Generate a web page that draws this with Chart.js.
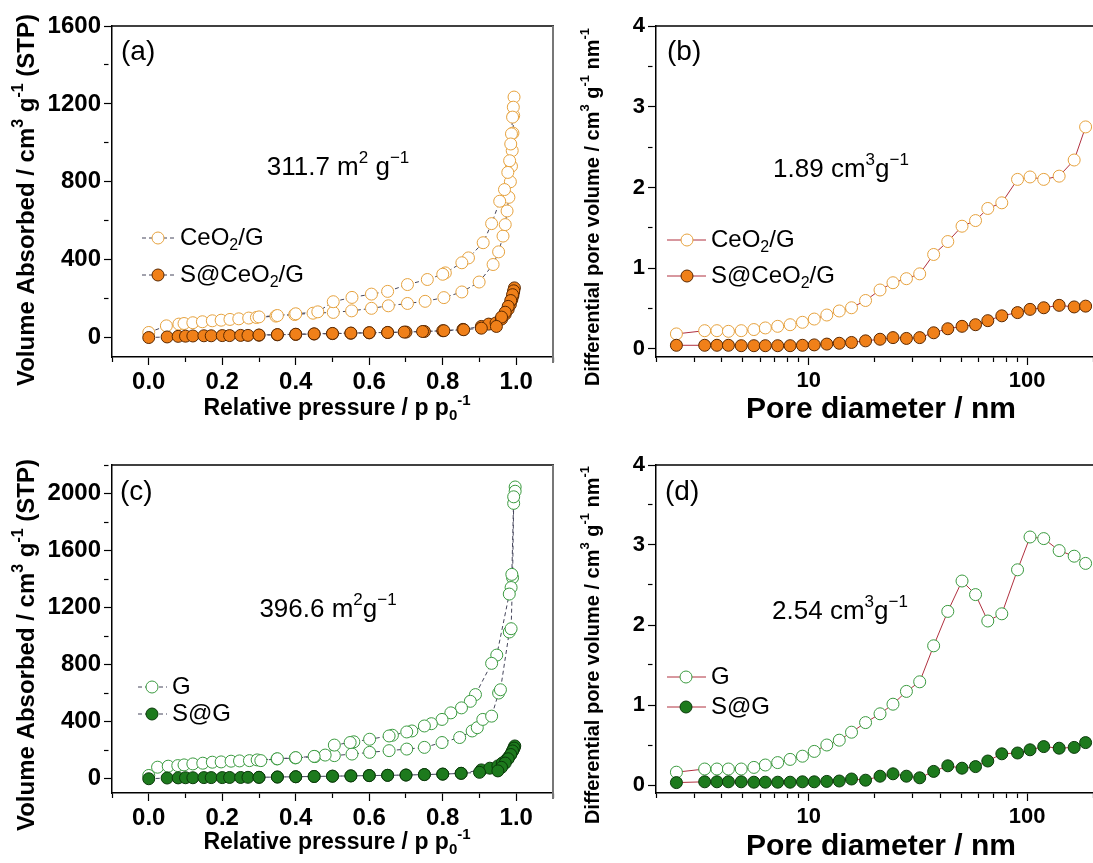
<!DOCTYPE html>
<html><head><meta charset="utf-8">
<script src="https://cdn.jsdelivr.net/npm/chart.js@4.4.1/dist/chart.umd.min.js"></script>
<style>
html,body{margin:0;padding:0;background:#fff;overflow:hidden;width:1093px;height:863px;position:relative;}
canvas{position:absolute;}
</style></head><body>
<canvas id="ca" width="560" height="430" style="left:0;top:0"></canvas>
<canvas id="cb" width="540" height="430" style="left:560px;top:0"></canvas>
<canvas id="cc" width="560" height="433" style="left:0;top:430px"></canvas>
<canvas id="cd" width="540" height="433" style="left:560px;top:430px"></canvas>
<script>
// ---------- DATA ----------
// (a) CeO2/G isotherm
const ceoAdsP = [0.0, 0.048, 0.082, 0.096, 0.12, 0.146, 0.173, 0.197, 0.221, 0.245, 0.272, 0.293, 0.346, 0.397, 0.447, 0.502, 0.552, 0.606, 0.652, 0.704, 0.752, 0.803, 0.852, 0.899, 0.937, 0.952, 0.964, 0.970, 0.975, 0.980, 0.984, 0.987, 0.989, 0.991, 0.993, 0.994];
const ceoAdsV = [26, 60, 69, 72, 76, 81, 86, 89, 93, 96, 100, 103, 110, 118, 125, 129, 137, 150, 163, 175, 186, 205, 234, 285, 375, 440, 521, 580, 650, 720, 800, 880, 960, 1050, 1140, 1235];
const ceoDesP = [0.992, 0.990, 0.987, 0.985, 0.982, 0.977, 0.968, 0.955, 0.933, 0.910, 0.870, 0.852, 0.807, 0.800, 0.758, 0.704, 0.650, 0.606, 0.553, 0.502, 0.46, 0.40, 0.35, 0.30];
const ceoDesV = [1183, 1132, 1046, 994, 908, 848, 760, 700, 585, 487, 409, 384, 332, 325, 298, 272, 237, 223, 206, 184, 132, 122, 113, 106];
// (a) S@CeO2/G isotherm
const sceoAdsP = [0.0, 0.05, 0.08, 0.1, 0.12, 0.15, 0.17, 0.2, 0.22, 0.25, 0.27, 0.3, 0.35, 0.4, 0.45, 0.5, 0.55, 0.6, 0.65, 0.7, 0.75, 0.8, 0.855, 0.905, 0.925, 0.945, 0.96, 0.97, 0.978, 0.984, 0.988, 0.991, 0.993, 0.995];
const sceoAdsV = [0, 3, 6, 7, 8, 9, 9, 10, 10, 11, 11, 12, 14, 16, 18, 20, 22, 24, 26, 28, 31, 35, 42, 57, 69, 75, 95, 120, 145, 170, 195, 215, 235, 255];
const sceoDesP = [0.993, 0.99, 0.985, 0.978, 0.97, 0.96, 0.946, 0.905, 0.857, 0.803, 0.745, 0.695, 0.65, 0.6, 0.55, 0.5, 0.45, 0.4, 0.35, 0.3];
const sceoDesV = [240, 220, 190, 160, 130, 105, 57, 48, 40, 35, 31, 28, 26, 25, 23, 21, 19, 17, 15, 13];
// (c) G isotherm
const gAdsP = [0.0, 0.024, 0.053, 0.079, 0.096, 0.12, 0.147, 0.173, 0.197, 0.224, 0.247, 0.274, 0.295, 0.349, 0.399, 0.452, 0.505, 0.553, 0.601, 0.654, 0.702, 0.75, 0.798, 0.846, 0.88, 0.894, 0.909, 0.933, 0.952, 0.957, 0.981, 0.986, 0.990, 0.993, 0.997];
const gAdsV = [23, 81, 88, 92, 97, 104, 109, 116, 118, 123, 125, 127, 132, 139, 146, 155, 162, 173, 185, 197, 208, 220, 254, 289, 335, 358, 416, 439, 601, 624, 1029, 1052, 1410, 1931, 2046];
const gDesP = [0.997, 0.993, 0.988, 0.986, 0.981, 0.947, 0.933, 0.889, 0.875, 0.851, 0.822, 0.798, 0.769, 0.75, 0.716, 0.702, 0.663, 0.654, 0.601, 0.558, 0.548, 0.505, 0.48, 0.45, 0.40, 0.35, 0.305];
const gDesV = [2016, 1977, 1433, 1341, 1295, 867, 809, 590, 543, 497, 462, 416, 386, 370, 335, 328, 305, 300, 277, 259, 254, 236, 166, 157, 148, 140, 127];
// (c) S@G isotherm
const sgAdsP = [0.0, 0.05, 0.08, 0.1, 0.12, 0.15, 0.17, 0.2, 0.22, 0.25, 0.27, 0.3, 0.35, 0.4, 0.45, 0.5, 0.55, 0.6, 0.65, 0.7, 0.75, 0.8, 0.85, 0.905, 0.928, 0.95, 0.962, 0.972, 0.979, 0.985, 0.989, 0.992, 0.994, 0.996];
const sgAdsV = [0, 5, 6, 7, 7, 8, 8, 8, 9, 9, 10, 10, 12, 14, 16, 18, 20, 22, 24, 26, 29, 32, 38, 62, 74, 90, 110, 130, 150, 170, 190, 205, 218, 230];
const sgDesP = [0.994, 0.99, 0.985, 0.978, 0.97, 0.96, 0.95, 0.9, 0.85, 0.8, 0.75, 0.7, 0.65, 0.6, 0.55, 0.5, 0.45, 0.4, 0.35, 0.3];
const sgDesV = [215, 195, 170, 140, 110, 80, 55, 45, 38, 33, 29, 26, 24, 22, 20, 18, 16, 14, 12, 10];
// (b), (d) pore size distributions
const poreD = [2.48, 3.34, 3.80, 4.29, 4.91, 5.61, 6.33, 7.21, 8.22, 9.36, 10.6, 12.1, 13.8, 15.7, 18.2, 21.2, 24.3, 28.0, 32.2, 37.3, 43.3, 50.3, 58.0, 66.0, 76.5, 90.3, 103, 119, 140, 164, 185];
const ceoPore = [0.186, 0.226, 0.226, 0.218, 0.226, 0.24, 0.26, 0.28, 0.30, 0.33, 0.37, 0.42, 0.47, 0.51, 0.60, 0.73, 0.82, 0.87, 0.93, 1.17, 1.33, 1.52, 1.59, 1.74, 1.81, 2.10, 2.13, 2.10, 2.14, 2.34, 2.75];
const sceoPore = [0.045, 0.045, 0.045, 0.045, 0.04, 0.04, 0.04, 0.04, 0.04, 0.045, 0.05, 0.06, 0.07, 0.08, 0.10, 0.12, 0.14, 0.13, 0.14, 0.20, 0.25, 0.28, 0.30, 0.35, 0.41, 0.45, 0.49, 0.51, 0.54, 0.52, 0.53];
const gPore = [0.16, 0.20, 0.20, 0.20, 0.20, 0.22, 0.25, 0.28, 0.32, 0.36, 0.42, 0.50, 0.56, 0.66, 0.78, 0.89, 1.01, 1.17, 1.29, 1.74, 2.17, 2.55, 2.38, 2.05, 2.14, 2.69, 3.10, 3.08, 2.93, 2.86, 2.77];
const sgPore = [0.03, 0.04, 0.04, 0.04, 0.04, 0.035, 0.035, 0.035, 0.035, 0.04, 0.04, 0.045, 0.05, 0.075, 0.06, 0.11, 0.14, 0.11, 0.09, 0.17, 0.24, 0.21, 0.23, 0.30, 0.39, 0.40, 0.44, 0.48, 0.46, 0.47, 0.53];
// ticks
const isoXTicks = [-0.1, 0.0, 0.1, 0.2, 0.3, 0.4, 0.5, 0.6, 0.7, 0.8, 0.9, 1.0, 1.1];
const isoXMajor = [0.0, 0.2, 0.4, 0.6, 0.8, 1.0];
const yTicksA = [0, 200, 400, 600, 800, 1000, 1200, 1400, 1600];
const yMajorA = [0, 400, 800, 1200, 1600];
const yTicksC = [0, 200, 400, 600, 800, 1000, 1200, 1400, 1600, 1800, 2000, 2200];
const yMajorC = [0, 400, 800, 1200, 1600, 2000];
const yTicksPore = [0, 0.5, 1, 1.5, 2, 2.5, 3, 3.5, 4];
const yMajorPore = [0, 1, 2, 3, 4];
const logTicks = [2, 3, 4, 5, 6, 7, 8, 9, 10, 20, 30, 40, 50, 60, 70, 80, 90, 100, 200];
const logMajor = [10, 100];

// ---------- HELPERS ----------
const FONT = "'Liberation Sans', Arial, Helvetica, sans-serif";
const zip = (p, v) => p.map((x, i) => ({x: x, y: v[i]}));
const isMaj = (list, v) => list.some(m => Math.abs(m - v) < 1e-6);

function drawRich(ctx, segs, x, y, size, align, weight) {
  const w = weight || 'normal';
  const parts = segs.map(s => {
    const sz = s[1] ? Math.round(size * 0.66) : size;
    ctx.font = w + ' ' + sz + 'px ' + FONT;
    return {t: s[0], m: s[1], sz: sz, w: ctx.measureText(s[0]).width};
  });
  const total = parts.reduce((a, p) => a + p.w, 0);
  let cx = align === 'center' ? x - total / 2 : x;
  ctx.textBaseline = 'middle';
  ctx.textAlign = 'left';
  ctx.fillStyle = '#000';
  parts.forEach(p => {
    ctx.font = w + ' ' + p.sz + 'px ' + FONT;
    const dy = p.m === 1 ? -size * 0.36 : (p.m === -1 ? size * 0.3 : 0);
    ctx.fillText(p.t, cx, y + dy);
    cx += p.w;
  });
}

function decoPlugin(d) {
  return {
    id: 'deco',
    afterDraw(chart) {
      const ctx = chart.ctx, a = chart.chartArea;
      ctx.save();
      ctx.strokeStyle = '#000'; ctx.lineWidth = 1.5;
      ctx.beginPath(); ctx.moveTo(a.left, a.top); ctx.lineTo(a.right + 1, a.top); ctx.stroke();
      if (d.rightBorder) {
        ctx.strokeStyle = d.rightBorder; ctx.lineWidth = 2;
        ctx.beginPath(); ctx.moveTo(a.right, a.top); ctx.lineTo(a.right, a.bottom + 6); ctx.stroke();
      }
      // axis titles
      drawRich(ctx, d.xTitle, d.xTitleX, d.xTitleY, d.xTitleSize, 'center', 'bold');
      ctx.save();
      ctx.translate(d.yTitleX, d.yTitleY);
      ctx.rotate(-Math.PI / 2);
      drawRich(ctx, d.yTitle, 0, 0, d.yTitleSize, 'center', 'bold');
      ctx.restore();
      // panel tag and annotation
      drawRich(ctx, [[d.tag, 0]], d.tagX, d.tagY, 28, 'left');
      drawRich(ctx, d.note, d.noteX, d.noteY, 26, 'center');
      d.legend.forEach(it => {
        ctx.save();
        ctx.strokeStyle = it.lineColor; ctx.lineWidth = 1;
        ctx.setLineDash(it.dash);
        ctx.beginPath(); ctx.moveTo(it.x0, it.y); ctx.lineTo(it.x1, it.y); ctx.stroke();
        ctx.setLineDash([]);
        ctx.beginPath(); ctx.arc(it.cx, it.y, 6, 0, Math.PI * 2);
        ctx.fillStyle = it.fill; ctx.fill();
        ctx.strokeStyle = it.stroke; ctx.lineWidth = 1; ctx.stroke();
        ctx.restore();
        drawRich(ctx, it.segs, it.tx, it.y, 24, 'left');
      });
      ctx.restore();
    }
  };
}

function tickGrid(majorFn) {
  return {
    drawOnChartArea: false, drawTicks: true, tickLength: 8,
    tickColor: '#000', tickWidth: 1.2,
    tickBorderDash: (c) => (c.tick && majorFn(c.tick.value)) ? [] : [4.5, 40]
  };
}

function makeChart(id, o) {
  const W = o.W, H = o.H, A = o.area;
  const xs = Object.assign({
    position: 'bottom',
    afterFit: s => { s.height = H - A.b; },
    border: {display: true, color: '#000', width: 1.5},
    grid: tickGrid(o.xMajorFn),
    title: {display: false}
  }, o.x);
  xs.ticks = Object.assign({autoSkip: false, maxRotation: 0, minRotation: 0, padding: 3, color: '#000',
            font: {family: FONT, size: o.tickSize, weight: 'bold'}}, o.x.ticks);
  const ys = Object.assign({
    position: 'left',
    afterFit: s => { s.width = A.l; },
    border: {display: true, color: '#000', width: 1.5},
    grid: tickGrid(o.yMajorFn),
    title: {display: false}
  }, o.y);
  ys.ticks = Object.assign({autoSkip: false, padding: 3, color: '#000',
            font: {family: FONT, size: o.tickSize, weight: 'bold'}}, o.y.ticks);
  return new Chart(document.getElementById(id), {
    type: 'scatter',
    data: {datasets: o.datasets},
    options: {
      responsive: false, animation: false, devicePixelRatio: 1,
      layout: {padding: {left: 0, top: A.t, right: W - A.r, bottom: 0}},
      plugins: {legend: {display: false}, tooltip: {enabled: false}},
      scales: {x: xs, y: ys}
    },
    plugins: [decoPlugin(o.deco)]
  });
}

const isoLine = '#44445a';
const poreLine = '#b0303f';
const ORANGE_OPEN = '#E6A23E', ORANGE_FILL = '#F08019', ORANGE_EDGE = '#5a2800';
const GREEN_OPEN = '#3a9a3f', GREEN_FILL = '#1d7a1d', GREEN_EDGE = '#0a3a0a';

function ds(label, pts, line, dash, fill, edge) {
  return {label: label, data: pts, showLine: true, tension: 0,
    borderColor: line, borderWidth: 1, borderDash: dash,
    pointRadius: 6, pointHoverRadius: 6, pointBorderWidth: 1,
    pointBackgroundColor: fill, pointBorderColor: edge};
}

const isoX = {
  type: 'linear', min: -0.1, max: 1.1,
  afterBuildTicks: s => { s.ticks = isoXTicks.map(v => ({value: v})); },
  ticks: {callback: v => isMaj(isoXMajor, v) ? v.toFixed(1) : ''}
};
const poreX = {
  type: 'logarithmic', min: 2, max: 200,
  afterBuildTicks: s => { s.ticks = logTicks.map(v => ({value: v, major: isMaj(logMajor, v)})); },
  ticks: {callback: v => isMaj(logMajor, v) ? String(v) : '', major: {enabled: false}}
};
const poreY = {
  type: 'linear', min: -0.1, max: 4,
  afterBuildTicks: s => { s.ticks = yTicksPore.map(v => ({value: v})); },
  ticks: {callback: v => isMaj(yMajorPore, v) ? String(v) : ''}
};
const isoXTitle = [['Relative pressure / p p', 0], ['0', -1], ['-1', 1]];
const isoYTitle = [['Volume Absorbed / cm', 0], ['3', 1], [' g', 0], ['-1', 1], [' (STP)', 0]];
const poreXTitle = [['Pore diameter / nm', 0]];
const poreYTitle = [['Differential pore volume / cm', 0], ['3', 1], [' g', 0], ['-1', 1], [' nm', 0], ['-1', 1]];

// (a)
makeChart('ca', {
  W: 560, H: 430, area: {l: 112, t: 26, r: 558, b: 357},
  tickSize: 24,
  xMajorFn: v => isMaj(isoXMajor, v), yMajorFn: v => isMaj(yMajorA, v),
  x: isoX,
  y: {type: 'linear', min: -100, max: 1600,
      afterBuildTicks: s => { s.ticks = yTicksA.map(v => ({value: v})); },
      ticks: {callback: v => isMaj(yMajorA, v) ? String(v) : ''}},
  datasets: [
    ds('S@CeO2/G', zip(sceoAdsP.concat(sceoDesP), sceoAdsV.concat(sceoDesV)), isoLine, [4, 3], ORANGE_FILL, ORANGE_EDGE),
    ds('CeO2/G', zip(ceoAdsP.concat(ceoDesP), ceoAdsV.concat(ceoDesV)), isoLine, [4, 3], '#ffffff', ORANGE_OPEN)
  ],
  deco: {
    xTitle: isoXTitle, xTitleX: 337, xTitleY: 409, xTitleSize: 23,
    yTitle: isoYTitle, yTitleX: 27, yTitleY: 200, yTitleSize: 24,
    rightBorder: '#777', tag: '(a)', tagX: 121, tagY: 52,
    note: [['311.7 m', 0], ['2', 1], [' g', 0], ['\u22121', 1]], noteX: 338, noteY: 168,
    legend: [
      {y: 238, x0: 142, x1: 176, cx: 158, tx: 180, lineColor: isoLine, dash: [4, 3], fill: '#fff', stroke: ORANGE_OPEN,
       segs: [['CeO', 0], ['2', -1], ['/G', 0]]},
      {y: 275, x0: 142, x1: 176, cx: 158, tx: 180, lineColor: isoLine, dash: [4, 3], fill: ORANGE_FILL, stroke: ORANGE_EDGE,
       segs: [['S@CeO', 0], ['2', -1], ['/G', 0]]}
    ]
  }
});

// (b)
makeChart('cb', {
  W: 540, H: 430, area: {l: 96, t: 26, r: 534, b: 357},
  tickSize: 22,
  xMajorFn: v => isMaj(logMajor, v), yMajorFn: v => isMaj(yMajorPore, v),
  x: poreX, y: poreY,
  datasets: [
    ds('S@CeO2/G', zip(poreD, sceoPore), poreLine, [], ORANGE_FILL, ORANGE_EDGE),
    ds('CeO2/G', zip(poreD, ceoPore), poreLine, [], '#ffffff', ORANGE_OPEN)
  ],
  deco: {
    xTitle: poreXTitle, xTitleX: 321, xTitleY: 410, xTitleSize: 30,
    yTitle: poreYTitle, yTitleX: 33, yTitleY: 207, yTitleSize: 20,
    rightBorder: null, tag: '(b)', tagX: 107, tagY: 52,
    note: [['1.89 cm', 0], ['3', 1], ['g', 0], ['\u22121', 1]], noteX: 281, noteY: 170,
    legend: [
      {y: 240, x0: 107, x1: 146, cx: 127, tx: 151, lineColor: poreLine, dash: [], fill: '#fff', stroke: ORANGE_OPEN,
       segs: [['CeO', 0], ['2', -1], ['/G', 0]]},
      {y: 276, x0: 107, x1: 146, cx: 127, tx: 151, lineColor: poreLine, dash: [], fill: ORANGE_FILL, stroke: ORANGE_EDGE,
       segs: [['S@CeO', 0], ['2', -1], ['/G', 0]]}
    ]
  }
});

// (c)
makeChart('cc', {
  W: 560, H: 433, area: {l: 112, t: 35, r: 558, b: 363},
  tickSize: 24,
  xMajorFn: v => isMaj(isoXMajor, v), yMajorFn: v => isMaj(yMajorC, v),
  x: isoX,
  y: {type: 'linear', min: -100, max: 2200,
      afterBuildTicks: s => { s.ticks = yTicksC.map(v => ({value: v})); },
      ticks: {callback: v => isMaj(yMajorC, v) ? String(v) : ''}},
  datasets: [
    ds('S@G', zip(sgAdsP.concat(sgDesP), sgAdsV.concat(sgDesV)), isoLine, [4, 3], GREEN_FILL, GREEN_EDGE),
    ds('G', zip(gAdsP.concat(gDesP), gAdsV.concat(gDesV)), isoLine, [4, 3], '#ffffff', GREEN_OPEN)
  ],
  deco: {
    xTitle: isoXTitle, xTitleX: 337, xTitleY: 413, xTitleSize: 23,
    yTitle: isoYTitle, yTitleX: 27, yTitleY: 215, yTitleSize: 24,
    rightBorder: '#777', tag: '(c)', tagX: 120, tagY: 62,
    note: [['396.6 m', 0], ['2', 1], ['g', 0], ['\u22121', 1]], noteX: 328, noteY: 180,
    legend: [
      {y: 257, x0: 138, x1: 167, cx: 152, tx: 172, lineColor: isoLine, dash: [4, 3], fill: '#fff', stroke: GREEN_OPEN,
       segs: [['G', 0]]},
      {y: 284, x0: 138, x1: 167, cx: 152, tx: 172, lineColor: isoLine, dash: [4, 3], fill: GREEN_FILL, stroke: GREEN_EDGE,
       segs: [['S@G', 0]]}
    ]
  }
});

// (d)
makeChart('cd', {
  W: 540, H: 433, area: {l: 96, t: 35, r: 534, b: 363},
  tickSize: 22,
  xMajorFn: v => isMaj(logMajor, v), yMajorFn: v => isMaj(yMajorPore, v),
  x: poreX, y: poreY,
  datasets: [
    ds('S@G', zip(poreD, sgPore), poreLine, [], GREEN_FILL, GREEN_EDGE),
    ds('G', zip(poreD, gPore), poreLine, [], '#ffffff', GREEN_OPEN)
  ],
  deco: {
    xTitle: poreXTitle, xTitleX: 321, xTitleY: 417, xTitleSize: 30,
    yTitle: poreYTitle, yTitleX: 33, yTitleY: 215, yTitleSize: 20,
    rightBorder: null, tag: '(d)', tagX: 105, tagY: 62,
    note: [['2.54 cm', 0], ['3', 1], ['g', 0], ['\u22121', 1]], noteX: 280, noteY: 182,
    legend: [
      {y: 247, x0: 107, x1: 146, cx: 126, tx: 151, lineColor: poreLine, dash: [], fill: '#fff', stroke: GREEN_OPEN,
       segs: [['G', 0]]},
      {y: 277, x0: 107, x1: 146, cx: 126, tx: 151, lineColor: poreLine, dash: [], fill: GREEN_FILL, stroke: GREEN_EDGE,
       segs: [['S@G', 0]]}
    ]
  }
});
</script>
</body></html>
